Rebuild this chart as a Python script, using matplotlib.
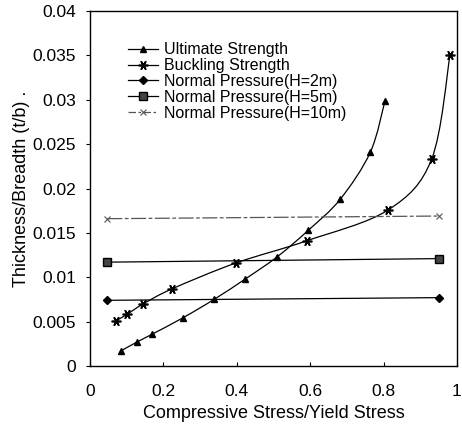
import numpy as np
import matplotlib.pyplot as plt
from matplotlib.path import Path
from matplotlib.patches import PathPatch
from matplotlib.lines import Line2D

plt.rcParams['font.family'] = ['Liberation Sans', 'DejaVu Sans']

# ==================== Data ====================
ult_x = [0.084, 0.128, 0.170, 0.252, 0.338, 0.423, 0.510, 0.595, 0.682, 0.764, 0.804]
ult_y = [0.0017, 0.0027, 0.0036, 0.0054, 0.0075, 0.0098, 0.0123, 0.0153, 0.0188, 0.0241, 0.0299]

buck_x = [0.071, 0.100, 0.145, 0.224, 0.397, 0.590, 0.813, 0.931, 0.981]
buck_y = [0.0051, 0.0058, 0.0070, 0.0087, 0.0116, 0.0141, 0.0176, 0.0233, 0.0350]

np_x = [0.047, 0.952]
np2_y = [0.0074, 0.0077]
np5_y = [0.0117, 0.0121]
np10_y = [0.0166, 0.0169]

labels = ['Ultimate Strength', 'Buckling Strength', 'Normal Pressure(H=2m)',
          'Normal Pressure(H=5m)', 'Normal Pressure(H=10m)']


def smooth_path(x, y):
    # Excel-style smoothed line: Catmull-Rom segments drawn as cubic Beziers
    p = np.column_stack([x, y])
    q = np.vstack([p[:1], p, p[-1:]])
    verts, codes = [p[0]], [Path.MOVETO]
    for i in range(1, len(q) - 2):
        c1 = q[i] + (q[i + 1] - q[i - 1]) / 6
        c2 = q[i + 1] - (q[i + 2] - q[i]) / 6
        verts += [c1, c2, q[i + 1]]
        codes += [Path.CURVE4] * 3
    return Path(verts, codes)


# ==================== Figure ====================
fig = plt.figure(figsize=(4.62, 4.28), dpi=100)
ax = fig.add_axes([0.195, 0.145, 0.794, 0.829])

lw = 0.9
styles = [
    dict(color='k', marker='^', ms=5),
    dict(color='k', marker=(6, 2, 90), ms=7, mew=1.2),
    dict(color='k', marker='D', ms=4.5),
    dict(color='k', marker='s', ms=5.5, mfc='#444444'),
    dict(color='#555555', marker='x', ms=4.5, mew=0.8),
]

for (x, y), st in zip([(ult_x, ult_y), (buck_x, buck_y)], styles[:2]):
    ax.add_patch(PathPatch(smooth_path(x, y), fill=False, ec='k', lw=lw))
    ax.plot(x, y, ls='none', **st)

ax.plot(np_x, np2_y, '-', lw=lw, **styles[2])
ax.plot(np_x, np5_y, '-', lw=lw, **styles[3])
ax.plot(np_x, np10_y, linestyle=(0, (12, 2, 3, 2)), lw=lw, **styles[4])

ax.set_xlim(0, 1)
ax.set_ylim(0, 0.04)
ax.set_xticks([0, 0.2, 0.4, 0.6, 0.8, 1])
ax.set_xticklabels(['0', '0.2', '0.4', '0.6', '0.8', '1'])
ax.set_yticks([0, 0.005, 0.01, 0.015, 0.02, 0.025, 0.03, 0.035, 0.04])
ax.set_yticklabels(['0', '0.005', '0.01', '0.015', '0.02', '0.025', '0.03', '0.035', '0.04'])
ax.tick_params(axis='x', direction='in', length=3, labelsize=12.5, pad=13)
ax.tick_params(axis='y', direction='out', length=3, labelsize=12.5, pad=7)
ax.set_xlabel('Compressive Stress/Yield Stress', fontsize=13, labelpad=4)
ax.set_ylabel('Thickness/Breadth (t/b) .', fontsize=13, labelpad=2)
for s in ax.spines.values():
    s.set_linewidth(1.0)

handles = [Line2D([], [], lw=lw, **st) for st in styles]
handles[4].set_linestyle((0, (6, 2, 2, 2)))
ax.legend(handles, labels, loc='upper left', bbox_to_anchor=(0.085, 0.93), frameon=False,
          fontsize=11.5, handlelength=1.9, handletextpad=0.35, labelspacing=0.05,
          borderaxespad=0)

fig.savefig('out.png', dpi=100)
